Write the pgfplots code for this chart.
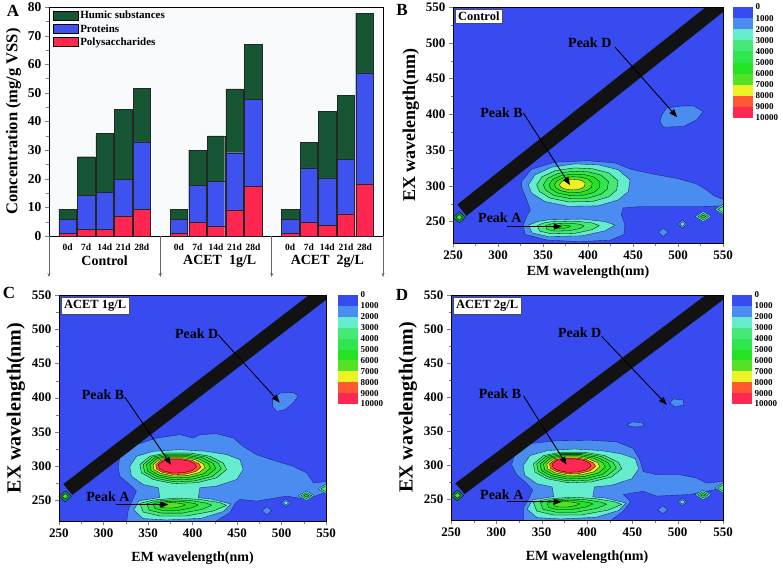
\documentclass[border=0pt]{standalone}
\usepackage{fontspec}
\setmainfont{Liberation Serif}
\usepackage{pgfplots}
\pgfplotsset{compat=1.18}
\usetikzlibrary{arrows.meta}

\definecolor{c0}{RGB}{55,75,240}
\definecolor{c1}{RGB}{74,140,240}
\definecolor{c2}{RGB}{100,236,205}
\definecolor{c3}{RGB}{70,232,120}
\definecolor{c4}{RGB}{48,230,78}
\definecolor{c5}{RGB}{36,226,36}
\definecolor{c6}{RGB}{84,226,36}
\definecolor{c7}{RGB}{236,242,36}
\definecolor{c8}{RGB}{255,88,50}
\definecolor{c9}{RGB}{255,40,85}
\definecolor{cl}{RGB}{25,30,110}
\definecolor{humic}{RGB}{22,86,52}
\definecolor{prot}{RGB}{62,82,240}
\definecolor{poly}{RGB}{255,38,80}

\newcommand\fs[1]{\fontsize{#1}{#1}\selectfont}

\pgfplotsset{
  eem/.style={scale only axis, anchor=north west,
    xmin=250,xmax=550,ymin=220,ymax=550,
    xtick={250,300,...,550}, ytick={250,300,...,550},
    minor x tick num=1, minor y tick num=1,
    tick align=outside, tick pos=left, major tick length=4pt, minor tick length=2.5pt,
    tick label style={font=\bfseries\fs{13}},
    /pgf/number format/assume math mode=true,
    xlabel={EM wavelength(nm)}, ylabel={EX wavelength(nm)},
    xlabel style={font=\bfseries\fs{14}},
    axis background/.style={fill=c0}, axis on top, no markers,
    every axis plot/.append style={line join=round}},
  cbar/.style={scale only axis, anchor=north west, width=20pt,
    xmin=0,xmax=1,ymin=0,ymax=10000, y dir=reverse,
    xtick=\empty, ytick={0,1000,...,10000}, yticklabel pos=right,
    major tick length=0pt, axis line style={draw=none},
    scaled y ticks=false, /pgf/number format/1000 sep={},
    /pgf/number format/assume math mode=true,
    tick label style={font=\bfseries\fs{9}}, yticklabel style={xshift=-1pt},
    no markers, clip=false},
  lv1/.style={fill=c1, draw=cl, line width=0.35pt},
  lv2/.style={fill=c2, draw=cl, line width=0.35pt},
  lv3/.style={fill=c3, draw=black, line width=0.3pt},
  lv4/.style={fill=c4, draw=black, line width=0.3pt},
  lv5/.style={fill=c5, draw=black, line width=0.3pt},
  lv6/.style={fill=c6, draw=black, line width=0.3pt},
  lv7/.style={fill=c7, draw=black, line width=0.3pt},
  lv8/.style={fill=c8, draw=black, line width=0.3pt},
  lv9/.style={fill=c9, draw=black, line width=0.3pt},
}
\tikzset{pk/.style={-{Triangle[length=8pt,width=6pt]}, line width=0.9pt, black},
  pkl/.style={font=\bfseries\fs{14}},
  inset/.style={draw=black!70, fill=white, font=\bfseries\fs{12.5}, inner sep=3pt, anchor=north west}}

\newcommand\colbar{%
  \addplot[fill=c0,draw=none] coordinates {(0,0) (1,0) (1,1000) (0,1000)} -- cycle;
  \addplot[fill=c1,draw=none] coordinates {(0,1000) (1,1000) (1,2000) (0,2000)} -- cycle;
  \addplot[fill=c2,draw=none] coordinates {(0,2000) (1,2000) (1,3000) (0,3000)} -- cycle;
  \addplot[fill=c3,draw=none] coordinates {(0,3000) (1,3000) (1,4000) (0,4000)} -- cycle;
  \addplot[fill=c4,draw=none] coordinates {(0,4000) (1,4000) (1,5000) (0,5000)} -- cycle;
  \addplot[fill=c5,draw=none] coordinates {(0,5000) (1,5000) (1,6000) (0,6000)} -- cycle;
  \addplot[fill=c6,draw=none] coordinates {(0,6000) (1,6000) (1,7000) (0,7000)} -- cycle;
  \addplot[fill=c7,draw=none] coordinates {(0,7000) (1,7000) (1,8000) (0,8000)} -- cycle;
  \addplot[fill=c8,draw=none] coordinates {(0,8000) (1,8000) (1,9000) (0,9000)} -- cycle;
  \addplot[fill=c9,draw=none] coordinates {(0,9000) (1,9000) (1,10000) (0,10000)} -- cycle;
}

\newcommand\bandanddiamonds{%
  \addplot[fill=black!93, draw=none] coordinates {(254.9,273.9) (265,258) (580,573) (554,573)} -- cycle;
  \addplot[fill={rgb,255:red,40;green,130;blue,60}, draw=black, line width=0.3pt] coordinates {(250,256) (257,264) (264,256) (257,248)} -- cycle;
  \addplot[lv4] coordinates {(253.5,256) (257,260) (260.5,256) (257,252)} -- cycle;
  \addplot[lv2] coordinates {(519,257) (528,264) (537,257) (528,250)} -- cycle;
  \addplot[lv3] coordinates {(522,257) (528,261.5) (534,257) (528,252.5)} -- cycle;
  \addplot[lv5] coordinates {(525,257) (528,259) (531,257) (528,255)} -- cycle;
  \addplot[lv2] coordinates {(541,267) (550,274) (559,267) (550,260)} -- cycle;
  \addplot[lv3] coordinates {(544,267) (550,271.5) (556,267) (550,262.5)} -- cycle;
  \addplot[lv1] coordinates {(499.5,246.5) (505,252.5) (510.5,246.5) (505,240.5)} -- cycle;
  \addplot[lv2] coordinates {(502,246.5) (505,249.5) (508,246.5) (505,243.5)} -- cycle;
  \addplot[lv1] coordinates {(478,235) (483.5,241) (489,235) (483.5,229)} -- cycle;
}

% peak B and peak A rings shared by C and D
\newcommand\aquaCD{%
  \addplot[lv2] coordinates {(329.5,299.9) (337.1,314.5) (355.9,321.8) (385.8,324.2) (415.8,321.8) (438.3,317) (453.3,309.7) (457,295.2) (449.6,280.6) (427,270.9) (408.3,268.5) (406.4,253.9) (419.5,252.5) (443,245) (435,234) (410,224) (370.8,221.5) (344.6,223.5) (334,236) (340,249.5) (363.3,254.5) (361.5,268.5) (344.6,273.3) (331.4,285.4)} -- cycle;
  \addplot[lv3] coordinates {(340.8,302.3) (352,314.5) (370.8,319.4) (397,319.4) (419.5,314.5) (434.5,304.8) (438.3,295.2) (427,283.1) (404.5,275.8) (378.3,274.8) (355.9,280.6) (342.7,290.3)} -- cycle;
  \addplot[lv4] coordinates {(344.5,302.3) (354.6,313.3) (371.5,317.7) (395.1,317.7) (415.4,313.3) (428.9,304.5) (432.3,295.9) (422.1,285) (401.9,278.4) (378.3,277.5) (358.1,282.7) (346.2,291.5)} -- cycle;
  \addplot[lv5] coordinates {(348.2,302.2) (357.2,312) (372.2,315.9) (393.2,315.9) (411.2,312) (423.2,304.2) (426.2,296.6) (417.2,286.9) (399.2,281) (378.2,280.2) (360.3,284.9) (349.8,292.6)} -- cycle;
  \addplot[lv6] coordinates {(352,302.2) (359.8,310.8) (373,314.2) (391.3,314.2) (407,310.8) (417.6,304) (420.2,297.2) (412.3,288.8) (396.6,283.7) (378.2,283) (362.5,287) (353.3,293.8)} -- cycle;
  \addplot[lv7] coordinates {(355.7,302.2) (362.4,309.5) (373.7,312.4) (389.4,312.4) (402.9,309.5) (411.9,303.7) (414.2,297.9) (407.4,290.7) (393.9,286.3) (378.2,285.7) (364.7,289.2) (356.8,295)} -- cycle;
  \addplot[lv8] coordinates {(358.7,302.2) (364.5,308.5) (374.3,311) (387.9,311) (399.6,308.5) (407.4,303.5) (409.4,298.5) (403.5,292.2) (391.8,288.4) (378.2,287.9) (366.5,290.9) (359.6,295.9)} -- cycle;
  \addplot[lv9] coordinates {(361.6,302.1) (366.6,307.5) (374.8,309.7) (386.4,309.7) (396.3,307.5) (402.9,303.2) (404.5,299) (399.6,293.7) (389.7,290.5) (378.1,290) (368.3,292.6) (362.5,296.9)} -- cycle;
  \addplot[lv3] coordinates {(340.8,245.8) (355.9,250.6) (382.1,253.5) (408.3,251.5) (430.8,246.7) (438.3,242.8) (423.3,234.6) (393.3,227.3) (363.3,227.3) (344.6,233.1)} -- cycle;
  \addplot[lv4] coordinates {(348.6,245.4) (359.9,249) (379.6,251.1) (399.2,249.6) (416.1,246) (421.7,243.1) (410.5,236.9) (388,231.5) (365.5,231.5) (351.4,235.8)} -- cycle;
  \addplot[lv5] coordinates {(355.8,244.9) (363.6,247.4) (377.3,248.9) (390.9,247.9) (402.6,245.4) (406.5,243.4) (398.7,239.1) (383.1,235.3) (367.5,235.3) (357.8,238.3)} -- cycle;
  \addplot[lv6] coordinates {(362.6,244.5) (367.2,246) (375,246.9) (382.9,246.3) (389.6,244.8) (391.9,243.6) (387.4,241.2) (378.4,239) (369.4,239) (363.8,240.7)} -- cycle;
}

\begin{document}
\begin{tikzpicture}
\useasboundingbox (0,0) rectangle (783pt,-568pt);

% ---------------- Panel A ----------------
\begin{axis}[at={(49pt,-7pt)}, anchor=north west, scale only axis,
  width=334pt, height=229pt,
  ybar stacked, bar width=0.94,
  xmin=0, xmax=18, ymin=0, ymax=80,
  xtick={1,2,3,4,5,7,8,9,10,11,13,14,15,16,17},
  xticklabels={0d,7d,14d,21d,28d,0d,7d,14d,21d,28d,0d,7d,14d,21d,28d},
  x tick label style={font=\bfseries\fs{9.5}},
  x tick style={draw=none},
  ytick={0,10,...,80}, minor y tick num=1,
  y tick label style={font=\bfseries\fs{13.5}},
  tick align=outside, tick pos=left, major tick length=4pt, minor tick length=2.5pt,
  /pgf/number format/assume math mode=true,
  ylabel={Concentration (mg/g VSS)}, ylabel style={font=\bfseries\fs{16.5}},
  clip=false,
  axis background/.style={fill={rgb,255:red,249;green,250;blue,252}},
  reverse legend,
  legend cell align=left,
  legend style={at={(rel axis cs:0.008,0.995)}, anchor=north west, draw=none, fill=none,
    font=\bfseries\fs{11}, row sep=0pt, inner sep=1pt},
]
\addplot[fill=poly, draw=black!85, line width=0.4pt,
  legend image code/.code={\draw[fill=poly,draw=black] (0pt,-4.5pt) rectangle (25pt,4.5pt);}]
  coordinates {(1,0.9) (2,2.3) (3,2.3) (4,7.0) (5,9.4)
               (7,0.9) (8,4.7) (9,3.3) (10,9.1) (11,17.4)
               (13,0.9) (14,4.7) (15,3.8) (16,7.7) (17,18.1)};
\addlegendentry{Polysaccharides}
\addplot[fill=prot, draw=black!85, line width=0.4pt,
  legend image code/.code={\draw[fill=prot,draw=black] (0pt,-4.5pt) rectangle (25pt,4.5pt);}]
  coordinates {(1,4.9) (2,12.0) (3,12.9) (4,12.8) (5,23.5)
               (7,4.9) (8,13.1) (9,15.9) (10,20.0) (11,30.4)
               (13,4.9) (14,19.1) (15,16.5) (16,19.0) (17,38.9)};
\addlegendentry{Proteins}
\addplot[fill=humic, draw=black!85, line width=0.4pt,
  legend image code/.code={\draw[fill=humic,draw=black] (0pt,-4.5pt) rectangle (25pt,4.5pt);}]
  coordinates {(1,3.5) (2,13.4) (3,20.6) (4,24.5) (5,18.8)
               (7,3.5) (8,12.2) (9,15.8) (10,22.3) (11,19.1)
               (13,3.5) (14,8.8) (15,23.3) (16,22.5) (17,20.9)};
\addlegendentry{Humic substances}
\draw[black!60, line width=0.5pt, -{Stealth[length=4pt,width=3pt]}] (axis cs:0,0) -- ++(0pt,-41pt);
\draw[black!60, line width=0.5pt, -{Stealth[length=4pt,width=3pt]}] (axis cs:6,0) -- ++(0pt,-41pt);
\draw[black!60, line width=0.5pt, -{Stealth[length=4pt,width=3pt]}] (axis cs:12,0) -- ++(0pt,-41pt);
\draw[black!60, line width=0.5pt, -{Stealth[length=4pt,width=3pt]}] (axis cs:18,0) -- ++(0pt,-41pt);
\node[font=\bfseries\fs{14}, yshift=-25pt] at (axis cs:3,0) {Control};
\node[font=\bfseries\fs{14}, yshift=-25pt] at (axis cs:9.2,0) {ACET\ \ 1g/L};
\node[font=\bfseries\fs{14}, yshift=-25pt] at (axis cs:15,0) {ACET\ \ 2g/L};
\end{axis}

% ---------------- Panel B ----------------
\begin{axis}[eem, at={(453pt,-7pt)}, width=270pt, height=236pt,
  ylabel style={font=\bfseries\fs{18}}]
\addplot[lv1] coordinates {(326,306) (337,323) (363,333) (400,335) (430,332) (448,323) (474,316) (500,310) (520,303) (532,294) (540,286) (552,280) (552,272) (526,271) (493,271) (459,271) (439,269) (437,260) (441,245) (440,232) (425,224) (390,222) (355,224) (330,232) (328,245) (332,258) (336,266) (332,280) (326,299)} -- cycle;
\addplot[lv1] coordinates {(482,399) (487,408.6) (506,411.8) (517,411.8) (528,403.9) (520.8,392.2) (506,382.9) (483.7,382) (480,389.9)} -- cycle;
\addplot[lv2] coordinates {(333.7,301.3) (341.1,315.3) (359.6,326) (385.6,330.7) (411.5,329.3) (433.7,322.3) (446.7,308.3) (444.8,292) (433.7,280.3) (411.5,272) (378.1,271.3) (352.2,278) (337.4,289.7)} -- cycle;
\addplot[lv3] coordinates {(343.0,301.4) (348.9,312.6) (363.7,321.2) (384.5,325.0) (405.2,323.8) (423.0,318.2) (433.4,307.0) (431.8,294.0) (423.0,284.6) (405.2,278.0) (378.5,277.4) (357.8,282.8) (345.9,292.2)} -- cycle;
\addplot[lv4] coordinates {(350.4,301.6) (355.1,310.5) (366.9,317.4) (383.6,320.4) (400.2,319.5) (414.4,315.0) (422.7,306.0) (421.5,295.6) (414.4,288.1) (400.2,282.8) (378.8,282.4) (362.2,286.6) (352.7,294.1)} -- cycle;
\addplot[lv5] coordinates {(356.8,301.6) (360.5,308.7) (369.8,314) (382.8,316.4) (395.8,315.7) (406.9,312.2) (413.4,305.2) (412.4,297) (406.9,291.1) (395.8,287) (379,286.6) (366.1,290) (358.7,295.8)} -- cycle;
\addplot[lv6] coordinates {(362.9,301.7) (365.6,306.9) (372.5,310.9) (382.1,312.6) (391.7,312.1) (399.9,309.5) (404.7,304.3) (404,298.3) (399.9,294) (391.7,290.9) (379.3,290.6) (369.7,293.1) (364.2,297.4)} -- cycle;
\addplot[lv7] coordinates {(368.4,301.8) (370.3,305.3) (374.9,308) (381.4,309.2) (387.9,308.8) (393.4,307.1) (396.7,303.6) (396.2,299.5) (393.4,296.6) (387.9,294.5) (379.5,294.3) (373,296) (369.3,298.9)} -- cycle;
\addplot[lv2] coordinates {(334,245) (344,250) (356,252.5) (393,253.5) (419,250) (430,245) (419,237) (393,230) (356,229) (338,234)} -- cycle;
\addplot[lv3] coordinates {(343.5,244.4) (350.7,248) (359.4,249.8) (386,250.6) (404.7,248) (412.6,244.4) (404.7,238.7) (386,233.6) (359.4,232.9) (346.4,236.5)} -- cycle;
\addplot[lv4] coordinates {(352.7,243.9) (357.2,246.2) (362.6,247.3) (379.3,247.7) (391,246.2) (395.9,243.9) (391,240.3) (379.3,237.2) (362.6,236.7) (354.5,239)} -- cycle;
\addplot[lv5] coordinates {(361.2,243.4) (363.2,244.4) (365.6,244.9) (373,245.1) (378.2,244.4) (380.4,243.4) (378.2,241.8) (373,240.4) (365.6,240.2) (362,241.2)} -- cycle;
\bandanddiamonds
\draw[pk] (axis cs:430,494) -- (axis cs:499,396);
\draw[pk] (axis cs:328,402) -- (axis cs:380,301);
\draw[pk] (axis cs:310,243) -- (axis cs:371,243);
\node[pkl] at (axis cs:402,500) {Peak D};
\node[pkl] at (axis cs:304,402) {Peak B};
\node[pkl] at (axis cs:302,255) {Peak A};
\node[inset] at (rel axis cs:0.007,0.993) {Control};
\end{axis}
\begin{axis}[cbar, at={(733pt,-7pt)}, height=111pt]
\colbar
\end{axis}

% ---------------- Panel C ----------------
\begin{axis}[eem, at={(59pt,-295pt)}, width=267pt, height=226pt,
  ylabel style={font=\bfseries\fs{20}}, xlabel shift=8pt]
\addplot[lv1] coordinates {(316.4,299.9) (318.3,312.1) (337.1,331.5) (359.5,341.2) (385.8,346) (400.8,341.2) (408.3,346) (427,347.5) (445.8,341.2) (457,329) (472,316.9) (494.6,307.2) (513.4,299.9) (528.4,290.2) (535.9,275.6) (552.6,278) (552.6,263.5) (528.4,251.5) (505.9,256.4) (472.2,249.1) (453.3,251.5) (448,246) (442,232) (425,219) (326,219) (328,237) (333,251.5) (337,263.6) (329.5,273.3) (318.3,285.4)} -- cycle;
\addplot[lv1] coordinates {(490,397) (498.3,406.8) (513.2,407.6) (518.8,402.8) (513.2,392.2) (503.9,382.5) (494.5,380) (490,387.2)} -- cycle;
\aquaCD
\bandanddiamonds
\draw[pk] (axis cs:429,491.6) -- (axis cs:498,393);
\draw[pk] (axis cs:324,401) -- (axis cs:376,302);
\draw[pk] (axis cs:314,244) -- (axis cs:373,244);
\node[pkl] at (axis cs:404.6,494) {Peak D};
\node[pkl] at (axis cs:299.5,404) {Peak B};
\node[pkl] at (axis cs:305,256) {Peak A};
\node[inset] at (rel axis cs:0.007,0.993) {ACET 1g/L};
\end{axis}
\begin{axis}[cbar, at={(338pt,-295pt)}, height=109pt]
\colbar
\end{axis}

% ---------------- Panel D ----------------
\begin{axis}[eem, at={(451pt,-295pt)}, width=272pt, height=225pt,
  ylabel style={font=\bfseries\fs{20}}, xlabel shift=8pt]
\addplot[lv1] coordinates {(316.9,300.8) (320.6,320.2) (337.1,332.3) (366.5,336.2) (403.2,337.1) (432.6,334.7) (451,325) (458.3,308.1) (462,291.2) (476.7,286.4) (502.4,286.4) (520.8,281.6) (531.8,274.3) (552,276.7) (552,267) (531.8,262.2) (513.4,257.4) (476.7,255) (462,262.2) (440,257.4) (448,247) (440,233) (426,219) (330,219) (330,238) (336,252) (340,264) (334,273) (322.4,286.4)} -- cycle;
\addplot[lv1] coordinates {(491.5,392) (495,397.6) (506,396) (507,389) (497,385.6)} -- cycle;
\addplot[lv1] coordinates {(483,383) (485,385) (487,383) (485,381)} -- cycle;
\addplot[lv1] coordinates {(444,360) (450,363.8) (460,363) (464,359) (456,356.5) (448,357)} -- cycle;
\aquaCD
\bandanddiamonds
\draw[pk] (axis cs:416,489.5) -- (axis cs:488,389);
\draw[pk] (axis cs:330,402) -- (axis cs:377.6,301);
\draw[pk] (axis cs:311.4,246.7) -- (axis cs:372,246.7);
\node[pkl] at (axis cs:392,494) {Peak D};
\node[pkl] at (axis cs:304,405) {Peak B};
\node[pkl] at (axis cs:306,257) {Peak A};
\node[inset] at (rel axis cs:0.007,0.993) {ACET 2g/L};
\end{axis}
\begin{axis}[cbar, at={(732pt,-295pt)}, height=109pt]
\colbar
\end{axis}

% panel letters
\node[font=\bfseries\fs{17}] at (13pt,-11pt) {A};
\node[font=\bfseries\fs{17}] at (402pt,-10pt) {B};
\node[font=\bfseries\fs{17}] at (9pt,-293pt) {C};
\node[font=\bfseries\fs{17}] at (402pt,-295pt) {D};
\end{tikzpicture}
\end{document}
